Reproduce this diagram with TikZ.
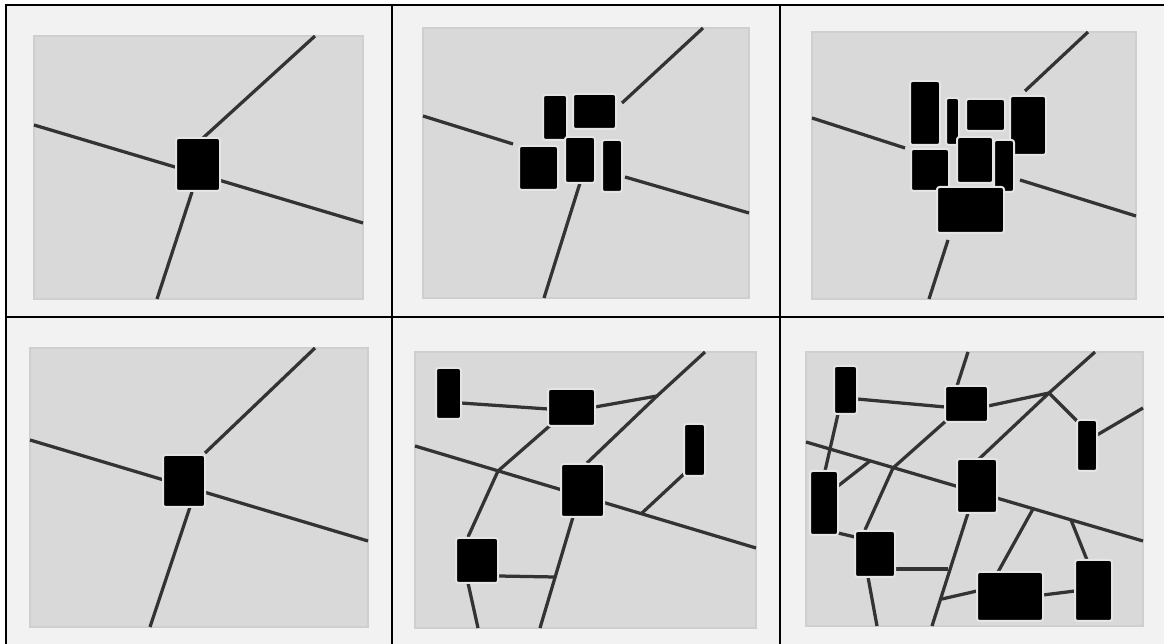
\documentclass[tikz,border=0pt]{standalone}
\usepackage{tikz}

\tikzset{
    gridline/.style={line width=0.04cm, black},
    panel/.style={fill=black!15, draw=black!19, line width=0.03cm},
    road/.style={draw=black!80, line width=0.065cm},
    block/.style={fill=black, draw=white!90!black, line width=0.04cm, rounded corners=0.05cm},
}

\begin{document}
\begin{tikzpicture}[x=0.02cm, y=-0.02cm]
            \useasboundingbox (0,0) rectangle (1164,644);
            \fill[white] (0,0) rectangle (1164,644);
            \fill[black!5] (6,5) rectangle (1164,644);
            % Raster:
            \draw[gridline] (6,644) -- (6,5) -- (1164,5);
            \draw[gridline] (6,317) -- (1164,317);
            \draw[gridline] (392,5) -- (392,644);
            \draw[gridline] (780,5) -- (780,644);

            % Feld oben links:
            \draw[panel] (34,36) rectangle (363,299);
            \draw[road] (34,125) -- (363,223);
            \draw[road] (203,138) -- (315,36);
            \draw[road] (192,192) -- (157,299);
            \draw[block] (176,138) rectangle (220,191);

            % Feld oben Mitte:
            \draw[panel] (423,28) rectangle (749,298);
            \draw[road] (423,116) -- (513,144);
            \draw[road] (625,177) -- (749,213);
            \draw[road] (622,103) -- (703,28);
            \draw[road] (580,183) -- (544,298);
            \draw[block] (543,95) rectangle (567,140);
            \draw[block] (573,94) rectangle (616,129);
            \draw[block] (519,146) rectangle (558,190);
            \draw[block] (565,137) rectangle (595,183);
            \draw[block] (602,140) rectangle (622,192);

            % Feld oben rechts:
            \draw[panel] (812,32) rectangle (1136,299);
            \draw[road] (812,118) -- (905,148);
            \draw[road] (1020,180) -- (1136,216);
            \draw[road] (1025,91) -- (1088,32);
            \draw[road] (948,240) -- (929,299);
            \draw[block] (910,81) rectangle (940,145);
            \draw[block] (946,98) rectangle (959,145);
            \draw[block] (966,99) rectangle (1005,131);
            \draw[block] (1010,96) rectangle (1046,155);
            \draw[block] (911,149) rectangle (949,191);
            \draw[block] (957,137) rectangle (993,183);
            \draw[block] (994,140) rectangle (1014,192);
            \draw[block] (937,187) rectangle (1004,233);

            % Feld unten links:
            \draw[panel] (30,348) rectangle (368,627);
            \draw[road] (30,440) -- (368,541);
            \draw[road] (205,453) -- (315,348);
            \draw[road] (190,507) -- (150,627);
            \draw[block] (163,455) rectangle (205,507);

            % Feld unten Mitte:
            \draw[panel] (415,352) rectangle (756,628);
            \coordinate (m1) at (657,396);
            \coordinate (m2) at (498,471);
            \coordinate (m3) at (642,513);
            \coordinate (m4) at (555,577);
            \draw[road] (461,403) -- (548,409);
            \draw[road] (595,407) -- (m1);
            \draw[road] (705,352) -- (m1) -- (587,463);
            \draw[road] (415,446) -- (756,548);
            \draw[road] (553,423) -- (m2) -- (468,537);
            \draw[road] (685,473) -- (m3);
            \draw[road] (573,517) -- (540,628);
            \draw[road] (498,576) -- (m4);
            \draw[road] (468,583) -- (478,628);
            \draw[block] (436,368) rectangle (461,419);
            \draw[block] (548,389) rectangle (595,426);
            \draw[block] (561,464) rectangle (604,517);
            \draw[block] (684,424) rectangle (705,476);
            \draw[block] (456,538) rectangle (498,583);

            % Feld unten rechts:
            \draw[panel] (806,352) rectangle (1143,626);
            \coordinate (r1) at (1049,393);
            \coordinate (r2) at (893,468);
            \coordinate (r3) at (1033,509);
            \coordinate (r4) at (1071,520);
            \coordinate (r5) at (870,461);
            \coordinate (r6) at (948,569);
            \coordinate (r7) at (942,599);
            \draw[road] (957,386) -- (968,352);
            \draw[road] (857,399) -- (945,407);
            \draw[road] (988,406) -- (r1);
            \draw[road] (1095,352) -- (r1) -- (979,459);
            \draw[road] (r1) -- (1078,422);
            \draw[road] (1097,435) -- (1143,408);
            \draw[road] (838,414) -- (825,471);
            \draw[road] (806,442) -- (1143,541);
            \draw[road] (947,420) -- (r2) -- (865,530);
            \draw[road] (838,486) -- (r5);
            \draw[road] (838,533) -- (855,537);
            \draw[road] (895,569) -- (r6);
            \draw[road] (968,513) -- (932,626);
            \draw[road] (r7) -- (977,591);
            \draw[road] (r3) -- (998,572);
            \draw[road] (r4) -- (1087,560);
            \draw[road] (1043,595) -- (1075,591);
            \draw[road] (868,577) -- (877,626);
            \draw[block] (834,366) rectangle (857,414);
            \draw[block] (945,386) rectangle (988,422);
            \draw[block] (1077,420) rectangle (1097,471);
            \draw[block] (810,471) rectangle (838,535);
            \draw[block] (957,459) rectangle (997,513);
            \draw[block] (855,531) rectangle (895,577);
            \draw[block] (977,572) rectangle (1043,621);
            \draw[block] (1075,560) rectangle (1112,621);
\end{tikzpicture}
\end{document}
